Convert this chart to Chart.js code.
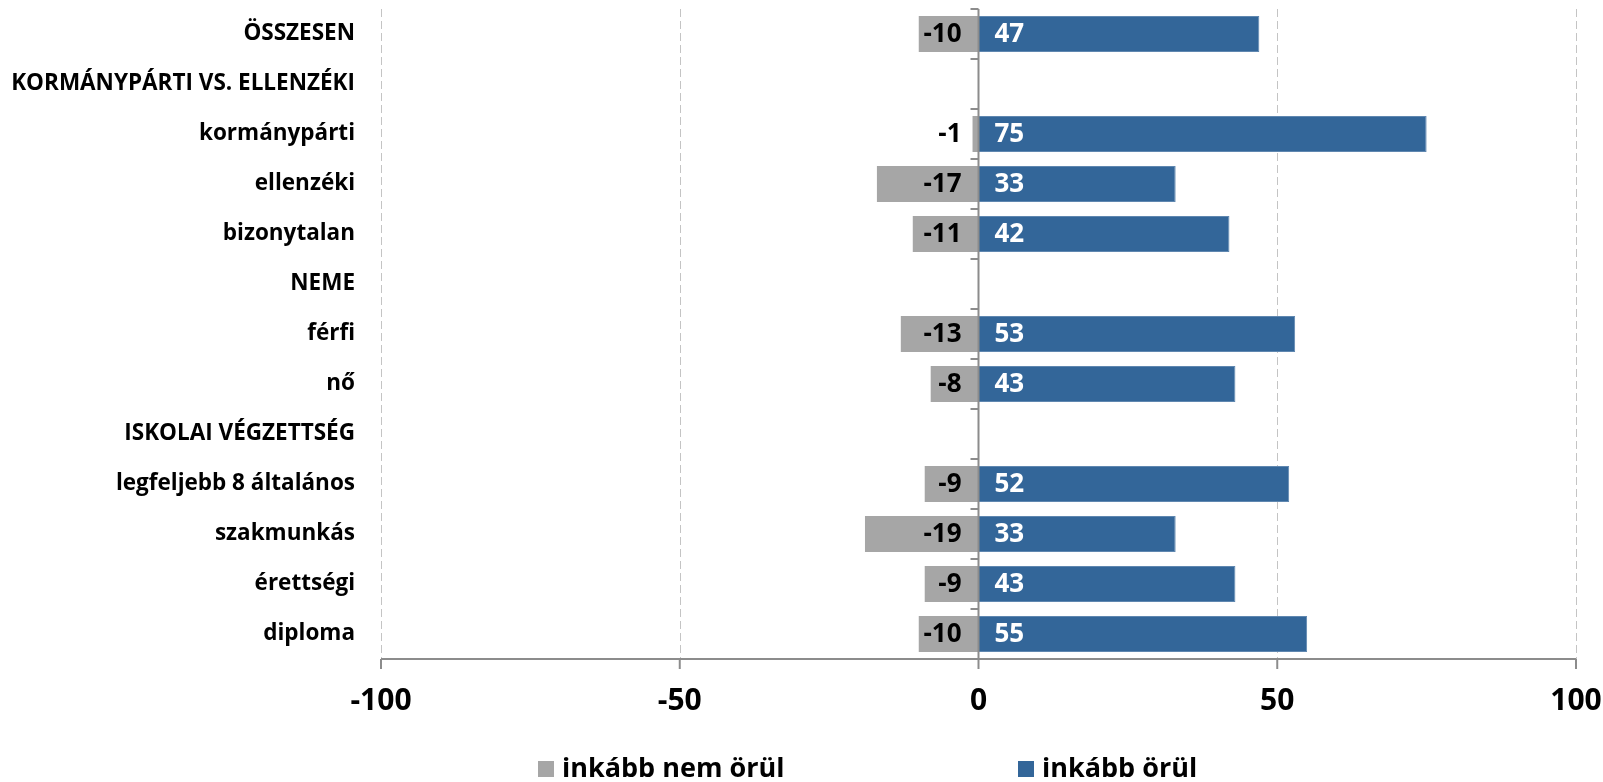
<!DOCTYPE html>
<html>
<head>
<meta charset="utf-8">
<script src="https://cdn.jsdelivr.net/npm/chart.js@4"></script>
<style>
  body { margin: 0; background: #fff; }
  #wrap { position: relative; width: 1603px; height: 782px; }
  .leg { position: absolute; top: 748px; font: bold 27px "Open Sans", sans-serif; color: #000; white-space: nowrap; line-height: 37px; }
  .leg span { display: inline-block; width: 16px; height: 16px; margin-right: 8px; vertical-align: 0px; }
</style>
</head>
<body>
<div id="wrap">
  <canvas id="chart" width="1603" height="782"></canvas>
  <div class="leg" style="left:538px"><span style="background:#a6a6a6"></span>inkább nem örül</div>
  <div class="leg" style="left:1018px"><span style="background:#336699"></span>inkább örül</div>
</div>
<script>
const categories = ['ÖSSZESEN', 'KORMÁNYPÁRTI VS. ELLENZÉKI', 'kormánypárti', 'ellenzéki', 'bizonytalan',
    'NEME', 'férfi', 'nő', 'ISKOLAI VÉGZETTSÉG', 'legfeljebb 8 általános', 'szakmunkás', 'érettségi', 'diploma'];
const notHappy = [-10, null, -1, -17, -11, null, -13, -8, null, -9, -19, -9, -10];
const happy = [47, null, 75, 33, 42, null, 53, 43, null, 52, 33, 43, 55];
const xTicks = [-100, -50, 0, 50, 100];

const FONT = '"Open Sans", sans-serif';

// grid, axis lines and value labels drawn by hand (excel look)
const decor = {
    id: 'decor',
    beforeDatasetsDraw(chart) {
        const ctx = chart.ctx, x = chart.scales.x, a = chart.chartArea;
        ctx.save();
        ctx.strokeStyle = '#c4c4c4';
        ctx.lineWidth = 1;
        ctx.setLineDash([8, 4]);
        xTicks.forEach(v => {
            if (v === 0) return;
            const px = Math.round(x.getPixelForValue(v)) + 0.5;
            ctx.beginPath(); ctx.moveTo(px, a.top); ctx.lineTo(px, a.bottom); ctx.stroke();
        });
        ctx.restore();
    },
    afterDatasetsDraw(chart) {
        const ctx = chart.ctx, x = chart.scales.x, y = chart.scales.y, a = chart.chartArea;
        const zero = x.getPixelForValue(0);
        ctx.save();
        ctx.strokeStyle = '#8c8c8c';
        ctx.lineWidth = 2;
        // zero line with category ticks
        ctx.beginPath(); ctx.moveTo(zero, a.top); ctx.lineTo(zero, a.bottom); ctx.stroke();
        const step = (a.bottom - a.top) / categories.length;
        for (let i = 0; i < categories.length; i++) {
            const py = a.top + i * step;
            ctx.beginPath(); ctx.moveTo(zero - 8, py); ctx.lineTo(zero, py); ctx.stroke();
        }
        // bottom axis with ticks
        ctx.beginPath(); ctx.moveTo(a.left, a.bottom); ctx.lineTo(a.right, a.bottom); ctx.stroke();
        xTicks.forEach(v => {
            const px = x.getPixelForValue(v);
            ctx.beginPath(); ctx.moveTo(px, a.bottom); ctx.lineTo(px, a.bottom + 10); ctx.stroke();
        });
        // value labels
        ctx.font = 'bold 26px ' + FONT;
        ctx.textBaseline = 'middle';
        categories.forEach((c, i) => {
            const py = y.getPixelForValue(i);
            if (notHappy[i] !== null) {
                ctx.fillStyle = '#000';
                ctx.textAlign = 'right';
                ctx.fillText(String(notHappy[i]), zero - 17, py + 1);
            }
            if (happy[i] !== null) {
                ctx.fillStyle = '#fff';
                ctx.textAlign = 'left';
                ctx.fillText(String(happy[i]), zero + 16, py + 1);
            }
        });
        ctx.restore();
    }
};

const ctx = document.getElementById('chart').getContext('2d');
const myChart = new Chart(ctx, {
    type: 'bar',
    data: {
        labels: categories,
        datasets: [{
            label: 'inkább nem örül',
            data: notHappy,
            backgroundColor: '#a6a6a6',
            borderWidth: 0
        }, {
            label: 'inkább örül',
            data: happy,
            backgroundColor: '#336699',
            borderColor: '#5f87b0',
            borderWidth: 1
        }]
    },
    options: {
        indexAxis: 'y',
        responsive: false,
        animation: false,
        categoryPercentage: 0.72,
        barPercentage: 1,
        layout: { padding: { top: 9, right: 27, left: 0, bottom: 0 } },
        plugins: {
            legend: { display: false },
            tooltip: { enabled: false }
        },
        scales: {
            x: {
                stacked: true,
                min: -100,
                max: 100,
                afterBuildTicks: (scale) => { scale.ticks = xTicks.map(v => ({ value: v })); },
                afterFit: (scale) => {
                    scale.height = 123;
                    scale.paddingLeft = 0;
                    scale.paddingRight = 0;
                },
                grid: { display: false, drawTicks: false },
                border: { display: false },
                ticks: {
                    color: '#000',
                    padding: 24,
                    font: { family: FONT, size: 30, weight: 'bold' }
                }
            },
            y: {
                stacked: true,
                afterFit: (scale) => {
                    scale.width = 381;
                    scale.paddingTop = 0;
                    scale.paddingBottom = 0;
                },
                grid: { display: false, drawTicks: false },
                border: { display: false },
                ticks: {
                    color: '#000',
                    padding: 26,
                    font: { family: FONT, size: 22.5, weight: 'bold' }
                }
            }
        }
    },
    plugins: [decor]
});
</script>
</body>
</html>
